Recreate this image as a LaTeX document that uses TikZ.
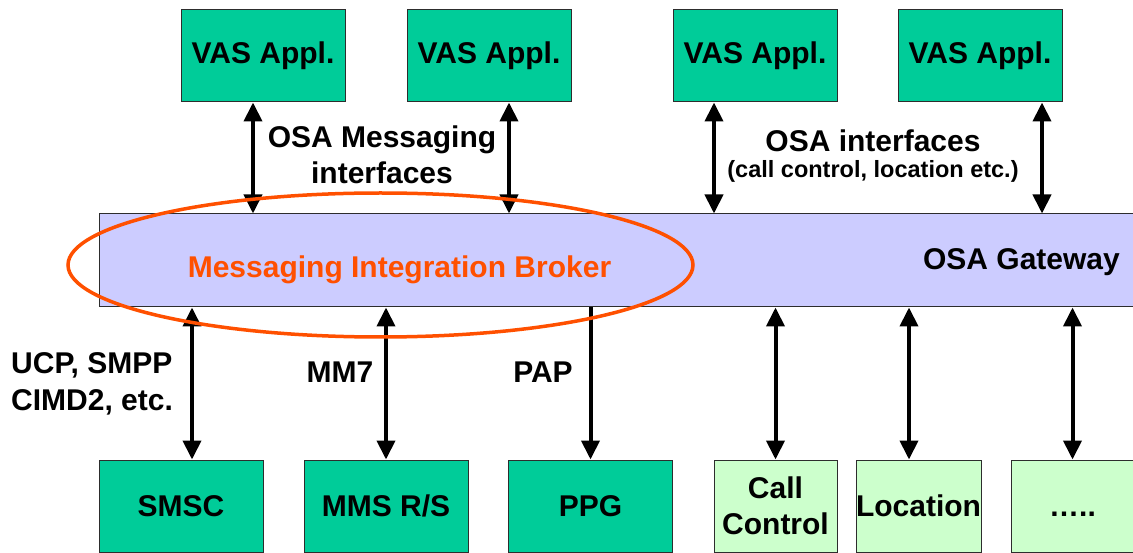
\documentclass[tikz,border=0pt]{standalone}
\usepackage{fontspec}
\setmainfont{Liberation Sans}
\usetikzlibrary{arrows.meta,shapes.geometric}
\definecolor{vasgreen}{RGB}{0,204,153}
\definecolor{lightgreen}{RGB}{204,255,204}
\definecolor{lavender}{RGB}{204,204,255}
\definecolor{brokerorange}{RGB}{255,80,0}
\definecolor{edgegray}{RGB}{45,45,45}
\begin{document}
\begin{tikzpicture}[x=1pt,y=-1pt,
  bigfont/.style={font=\bfseries\fontsize{30}{36}\selectfont},
  box/.style={draw=edgegray, line width=1pt, inner sep=0pt, minimum height=92pt, bigfont, align=center},
  darkbox/.style={box, fill=vasgreen, minimum width=164pt},
  lightbox/.style={box, fill=lightgreen, minimum width=123pt},
  lbl/.style={bigfont, inner sep=0pt},
  >={Triangle[width=18pt,length=19pt]},
  conn/.style={line width=4pt, <->},
  oneway/.style={line width=4pt, ->},
]
\path[use as bounding box, clip] (0,0) rectangle (1133,553);

% gateway bar
\node[draw=edgegray, line width=1pt, fill=lavender, minimum width=1050pt, minimum height=93pt, inner sep=0pt] (gw) at (624,260.5) {};
\node[lbl, anchor=base] (gwtxt) at (1021.5,270) {OSA Gateway};

% top application boxes
\node[darkbox] (v1) at (263,56) {VAS Appl.};
\node[darkbox] (v2) at (489,56) {VAS Appl.};
\node[darkbox] (v3) at (755,56) {VAS Appl.};
\node[darkbox] (v4) at (980,56) {VAS Appl.};

% bottom boxes
\node[darkbox] (smsc) at (181,506) {SMSC};
\node[darkbox] (mms) at (386,506) {MMS R/S};
\node[darkbox] (ppg) at (590.5,506) {PPG};
\node[lightbox] (cc) at (775.5,506) {Call\\Control};
\node[lightbox] (loc) at (918.5,506) {Location};
\node[lightbox, text height=21.5pt, text depth=0pt] (more) at (1072.5,506) {…..};

% x positions of connectors
\coordinate (xa) at (253,0);
\coordinate (xb) at (509,0);
\coordinate (xc) at (714,0);
\coordinate (xd) at (1042,0);
\coordinate (xe) at (192,0);
\coordinate (xf) at (909,0);

% top connectors
\draw[conn] (v1.south -| xa) -- (gw.north -| xa);
\draw[conn] (v2.south -| xb) -- (gw.north -| xb);
\draw[conn] (v3.south -| xc) -- (gw.north -| xc);
\draw[conn] (v4.south -| xd) -- (gw.north -| xd);

% bottom connectors
\draw[conn] (gw.south -| xe) -- (smsc.north -| xe);
\draw[conn] (gw.south -| mms) -- (mms.north);
\draw[oneway] (gw.south -| ppg) -- (ppg.north);
\draw[conn] (gw.south -| cc) -- (cc.north);
\draw[conn] (gw.south -| xf) -- (loc.north -| xf);
\draw[conn] (gw.south -| more) -- (more.north);

% labels
\node[lbl, align=center, anchor=base] (osamsg) at (382,184) {OSA Messaging\\interfaces};
\node[lbl, align=center, anchor=base] (osaif) at (873,178) {OSA interfaces\\[-10pt]{\fontsize{23.5}{28}\selectfont (call control, location etc.)}};
\node[lbl, align=left, anchor=base west] (proto) at (11,410) {UCP, SMPP\\[1pt]CIMD2, etc.};
\node[lbl, anchor=base] (mm7) at (340,383) {MM7};
\node[lbl, anchor=base] (pap) at (543,383) {PAP};

% broker ellipse
\node[ellipse, draw=brokerorange, line width=3.5pt, minimum width=625pt, minimum height=144pt, inner sep=0pt] (mib) at (380.5,265) {};
\node[lbl, text=brokerorange, anchor=base] (mibtxt) at (399.5,278) {Messaging Integration Broker};
\end{tikzpicture}
\end{document}
